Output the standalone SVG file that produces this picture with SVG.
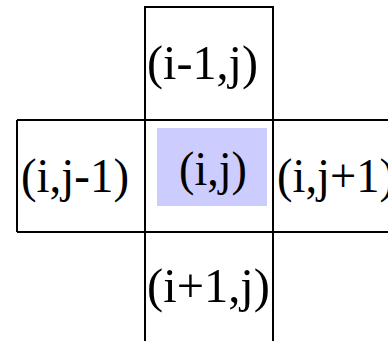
<svg xmlns="http://www.w3.org/2000/svg" width="388" height="341" viewBox="0 0 388 341">
<style>
.ln{stroke:#000;stroke-width:2;fill:none}
.t{font-family:"Liberation Serif","Times New Roman",serif;font-size:49px;fill:#000}
</style>
<rect width="388" height="341" fill="#fff"/>
<g id="grid">
<path class="ln" d="M145,341V7H273V341M17,120H388M17,232H388M17,120V232"/>
</g>
<g id="top"><text class="t" x="147" y="79" textLength="111" lengthAdjust="spacingAndGlyphs">(i-1,j)</text></g>
<g id="left"><text class="t" x="21" y="192" textLength="108" lengthAdjust="spacingAndGlyphs">(i,j-1)</text></g>
<g id="center"><rect x="157" y="128" width="110" height="78" fill="#ccf"/><text class="t" x="179" y="185" textLength="68" lengthAdjust="spacingAndGlyphs">(i,j)</text></g>
<g id="right"><text class="t" x="277" y="192" textLength="118" lengthAdjust="spacingAndGlyphs">(i,j+1)</text></g>
<g id="bottom"><text class="t" x="147" y="302" textLength="123" lengthAdjust="spacingAndGlyphs">(i+1,j)</text></g>
</svg>
